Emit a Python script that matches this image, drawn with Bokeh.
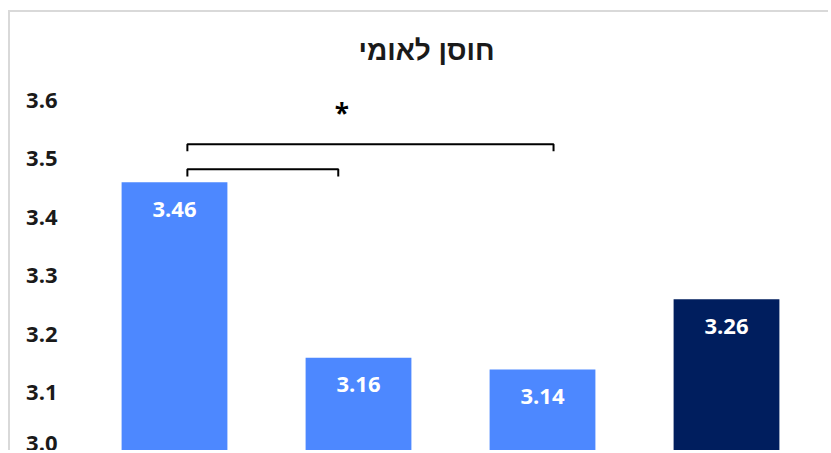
from bokeh.plotting import figure
from bokeh.models import Range1d, FixedTicker, Span, Label, ColumnDataSource, NumeralTickFormatter
from bokeh.core.properties import value
from bokeh.embed import file_html
from bokeh.resources import INLINE

# ---- data ----
title_text = "חוסן לאומי"
categories = ["קבוצה 1", "קבוצה 2", "קבוצה 3", "סה\"כ"]
values = [3.46, 3.16, 3.14, 3.26]
bar_colors = ["#4d88ff", "#4d88ff", "#4d88ff", "#001e5e"]
y_ticks = [3.0, 3.1, 3.2, 3.3, 3.4, 3.5, 3.6]

# significance brackets
bracket_x0 = [0.07, 0.07]
bracket_x1 = [0.89, 2.06]
bracket_y = [3.482, 3.525]
bracket_drop = 0.012
star_x = 0.91
star_y = 3.579

FONT = "Open Sans"

p = figure(width=820, height=440, output_backend="svg", toolbar_location=None,
           x_range=Range1d(-0.5, len(categories) - 0.5), y_range=Range1d(3.0, 3.75),
           min_border_left=72, min_border_right=12, min_border_top=0, min_border_bottom=1)
p.title.visible = False
p.styles = {"margin-left": "8px", "margin-top": "10px",
            "border-top": "2px solid #d9d9d9", "border-left": "2px solid #d9d9d9"}
p.outline_line_color = None
p.xaxis.visible = False
p.xgrid.visible = False
p.ygrid.visible = False

yax = p.yaxis[0]
yax.ticker = FixedTicker(ticks=y_ticks)
yax.formatter = NumeralTickFormatter(format="0.0")
yax.axis_line_color = None
yax.major_tick_line_color = None
yax.minor_tick_line_color = None
yax.major_tick_out = 0
yax.major_tick_in = 0
yax.major_label_standoff = 25
yax.major_label_text_font = FONT
yax.major_label_text_font_style = "bold"
yax.major_label_text_font_size = "22px"
yax.major_label_text_color = "#1a1a1a"

xs = list(range(len(categories)))
src = ColumnDataSource(dict(x=xs, top=values, color=bar_colors, cat=categories,
                            lbl=[f"{v:.2f}" for v in values]))
p.vbar(x="x", top="top", bottom=3.0, width=0.575, fill_color="color", line_color=None, source=src)
p.text(x="x", y="top", text="lbl", source=src, y_offset=27, text_align="center",
       text_baseline="middle", text_color="white", text_font=value(FONT),
       text_font_style="bold", text_font_size="22px")

# baseline
p.add_layout(Span(location=3.0, dimension="width", line_color="#d9d9d9", line_width=2))

# brackets
for x0, x1, y in zip(bracket_x0, bracket_x1, bracket_y):
    p.line(x=[x0, x0, x1, x1], y=[y - bracket_drop, y, y, y - bracket_drop],
           line_color="black", line_width=2)
p.text(x=[star_x], y=[star_y], text=["*"], text_align="center", text_baseline="middle",
       text_color="black", text_font=value(FONT), text_font_style="bold", text_font_size="26px")

# title
p.add_layout(Label(x=1.37, y=3.685, text=title_text, text_align="center", text_baseline="middle",
                   text_font="Liberation Sans", text_font_style="bold", text_font_size="28px",
                   text_color="#1a1a1a"))

open("out.html", "w").write(file_html(p, INLINE))
